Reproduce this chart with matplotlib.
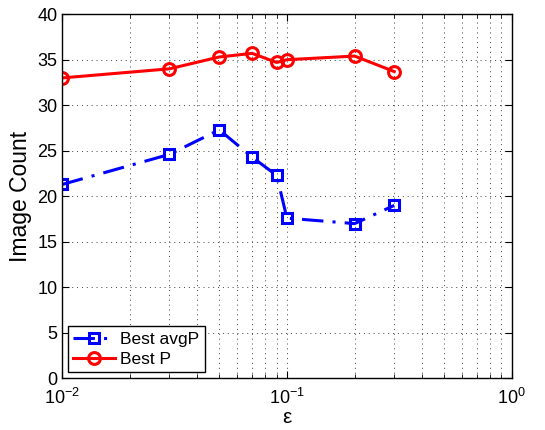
import matplotlib
matplotlib.use('Agg')
import matplotlib.pyplot as plt
import numpy as np

plt.rcParams['font.family'] = ['Liberation Sans', 'DejaVu Sans']
plt.rcParams['mathtext.fontset'] = 'custom'
plt.rcParams['mathtext.rm'] = 'Liberation Sans'

# данные
eps = [0.01, 0.03, 0.05, 0.07, 0.09, 0.1, 0.2, 0.3]
best_avgp = [21.3, 24.6, 27.3, 24.3, 22.3, 17.6, 17.0, 19.0]
best_p = [33.0, 34.0, 35.3, 35.7, 34.7, 35.0, 35.4, 33.7]

fig = plt.figure(figsize=(5.45, 4.3), dpi=100)
ax = fig.add_axes([0.114, 0.120, 0.825, 0.847])

ax.semilogx(eps, best_avgp, color='b', linestyle='-.', linewidth=2.2,
            dashes=(7, 3, 1, 3),
            marker='s', markersize=7, markerfacecolor='none',
            markeredgewidth=2.2, label='Best avgP')
ax.semilogx(eps, best_p, color='r', linestyle='-', linewidth=2.2,
            marker='o', markersize=8.5, markerfacecolor='none',
            markeredgewidth=2.2, label='Best P')

ax.set_xlim(1e-2, 1e0)
ax.set_ylim(0, 40)
ax.set_yticks(np.arange(0, 41, 5))

#  сетка - редкие точки
ax.grid(which='major', color='0.25', linestyle=(0, (1, 4)), linewidth=0.7)
ax.grid(which='minor', axis='x', color='0.25', linestyle=(0, (1, 4)),
        linewidth=0.7)

ax.tick_params(which='both', direction='in', top=True, right=True,
               labelsize=13)
ax.tick_params(which='major', length=5)
ax.tick_params(which='minor', length=3)
ax.tick_params(axis='x', pad=7)
for s in ax.spines.values():
    s.set_linewidth(1.0)

ax.set_xlabel('ε', fontsize=15, labelpad=0)
ax.set_ylabel('Image Count', fontsize=16.5, labelpad=4)

leg = ax.legend(loc='lower left', fontsize=12.5, fancybox=False,
                framealpha=1, edgecolor='k', handlelength=2.4,
                handletextpad=0.3, borderpad=0.3, labelspacing=0.3,
                borderaxespad=0.35)
leg.get_frame().set_linewidth(1.0)

fig.savefig('out.png', dpi=100)
